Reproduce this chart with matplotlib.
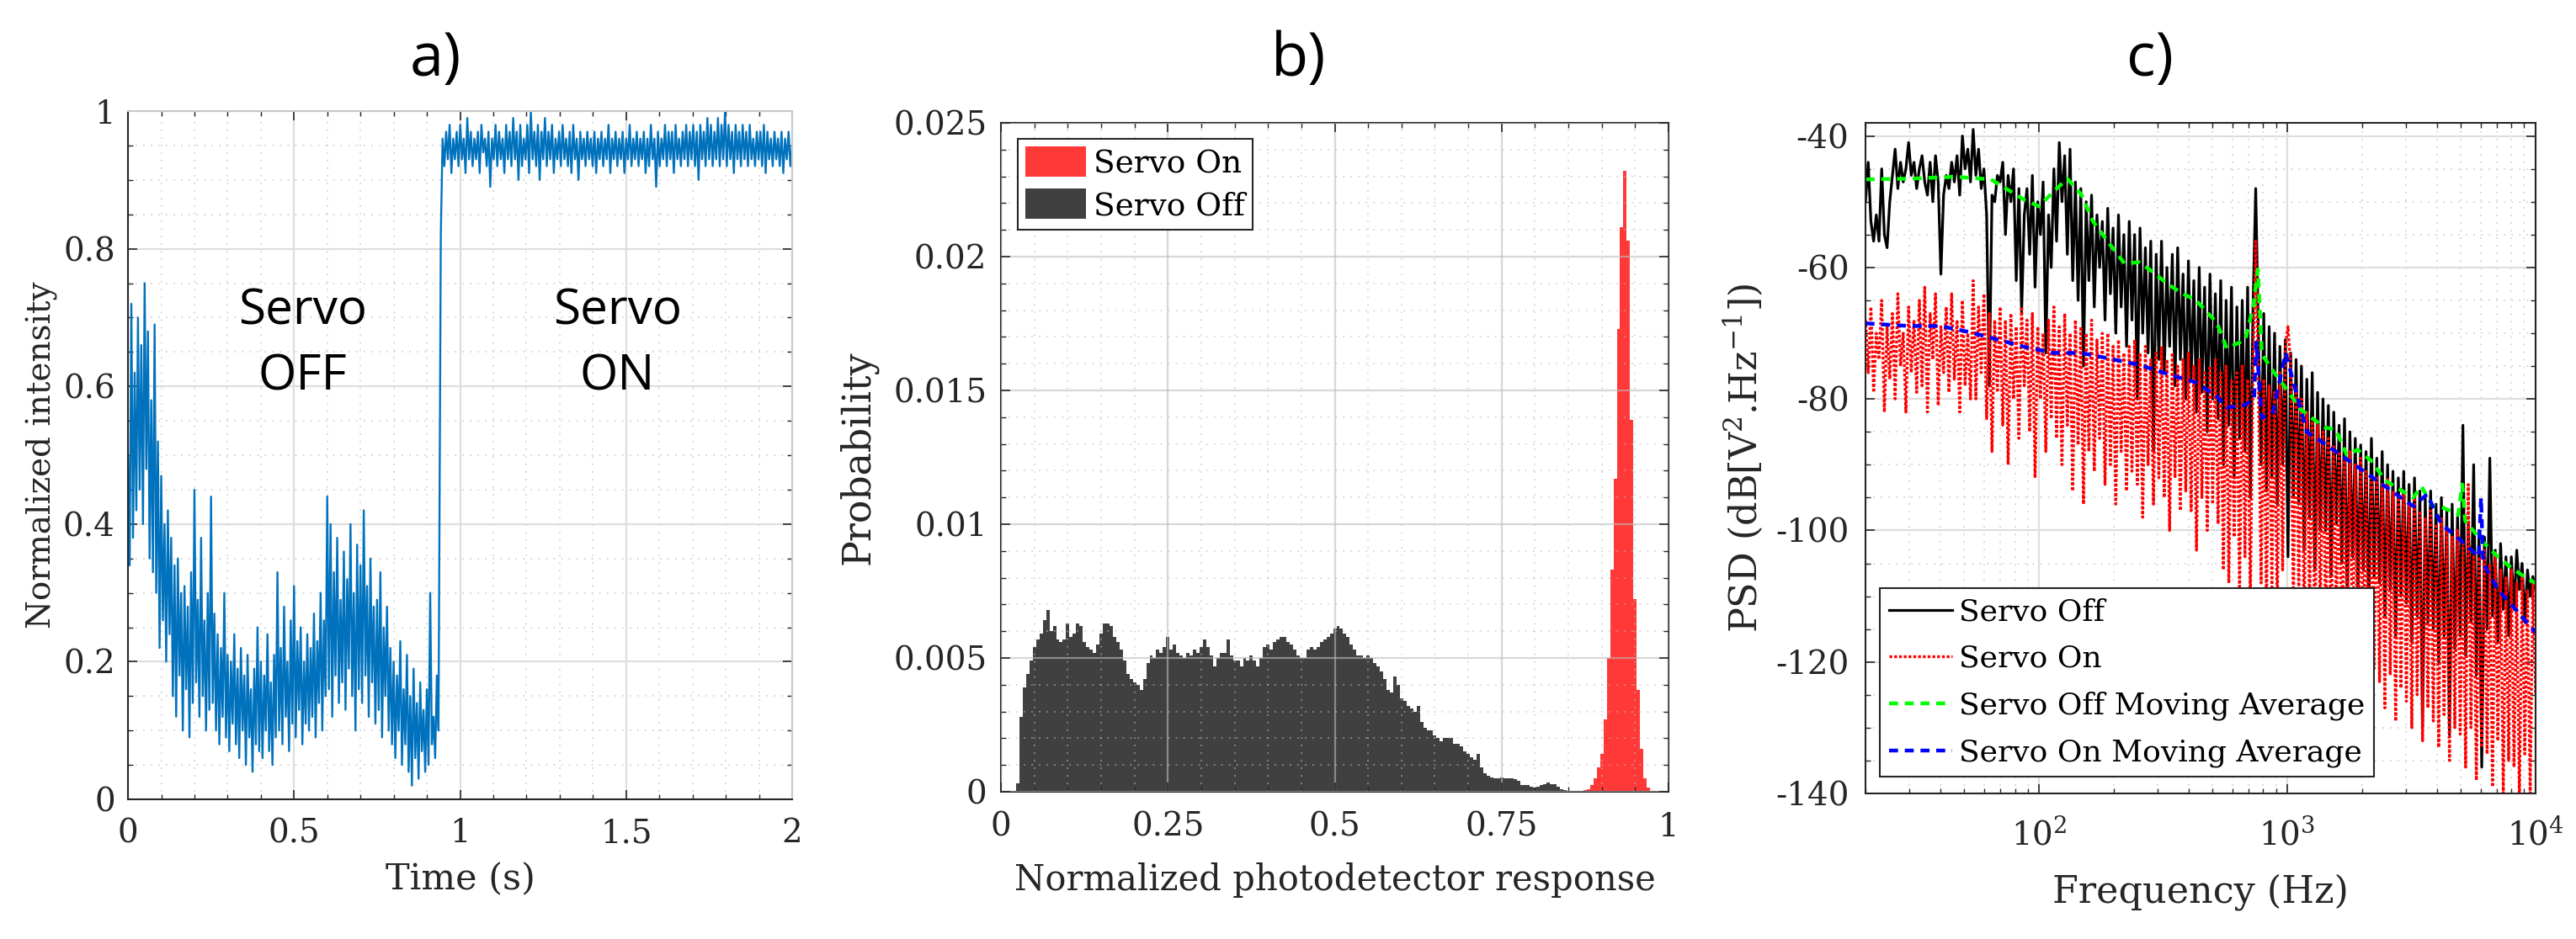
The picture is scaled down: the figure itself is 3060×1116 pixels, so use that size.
import matplotlib
matplotlib.use("Agg")
import matplotlib.pyplot as plt
import numpy as np
from matplotlib.ticker import MultipleLocator

plt.rcParams['font.family'] = ['DejaVu Serif']
plt.rcParams['mathtext.fontset'] = 'dejavuserif'

#%% a) normalized intensity (peaks and troughs)
T_OFF_END = 0.935
T_ON_START = 0.942
T_END = 2.0

OFF_INTENSITY = [
    0.50, 0.34, 0.72, 0.38, 0.62, 0.42, 0.70, 0.45, 0.66, 0.40,
    0.75, 0.48, 0.68, 0.35, 0.58, 0.33, 0.69, 0.30, 0.52, 0.22,
    0.47, 0.26, 0.40, 0.20, 0.42, 0.24, 0.38, 0.15, 0.34, 0.12,
    0.35, 0.18, 0.30, 0.10, 0.31, 0.16, 0.28, 0.09, 0.33, 0.14,
    0.45, 0.17, 0.29, 0.12, 0.38, 0.15, 0.26, 0.10, 0.30, 0.13,
    0.44, 0.14, 0.27, 0.10, 0.24, 0.08, 0.22, 0.12, 0.30, 0.09,
    0.21, 0.07, 0.20, 0.11, 0.24, 0.08, 0.19, 0.06, 0.22, 0.10,
    0.18, 0.05, 0.21, 0.09, 0.16, 0.04, 0.19, 0.08, 0.25, 0.07,
    0.20, 0.06, 0.18, 0.10, 0.24, 0.07, 0.17, 0.05, 0.21, 0.09,
    0.33, 0.10, 0.22, 0.08, 0.28, 0.12, 0.20, 0.07, 0.26, 0.11,
    0.31, 0.09, 0.23, 0.13, 0.25, 0.08, 0.20, 0.11, 0.24, 0.10,
    0.22, 0.12, 0.27, 0.09, 0.23, 0.14, 0.30, 0.10, 0.26, 0.15,
    0.44, 0.16, 0.40, 0.12, 0.33, 0.18, 0.38, 0.14, 0.29, 0.17,
    0.36, 0.13, 0.32, 0.19, 0.40, 0.15, 0.30, 0.10, 0.37, 0.16,
    0.34, 0.14, 0.42, 0.18, 0.31, 0.12, 0.35, 0.17, 0.28, 0.11,
    0.29, 0.13, 0.33, 0.09, 0.25, 0.15, 0.28, 0.10, 0.22, 0.08,
    0.20, 0.06, 0.18, 0.10, 0.23, 0.05, 0.16, 0.08, 0.21, 0.04,
    0.15, 0.02, 0.19, 0.06, 0.14, 0.03, 0.17, 0.07, 0.13, 0.04,
    0.16, 0.05, 0.30, 0.08, 0.12, 0.06, 0.18, 0.10,
]

ON_INTENSITY = [
    0.82, 0.96, 0.92, 0.97, 0.93, 0.98, 0.91, 0.96, 0.93, 0.97,
    0.92, 0.98, 0.93, 0.96, 0.91, 0.99, 0.93, 0.97, 0.92, 0.96,
    0.93, 0.97, 0.91, 0.98, 0.94, 0.96, 0.92, 0.97, 0.89, 0.96,
    0.93, 0.98, 0.92, 0.97, 0.93, 0.96, 0.91, 0.98, 0.93, 0.97,
    0.92, 0.99, 0.93, 0.97, 0.90, 0.98, 0.92, 0.96, 0.93, 0.98,
    0.91, 1.00, 0.93, 0.97, 0.92, 0.98, 0.90, 0.97, 0.93, 0.99,
    0.92, 0.97, 0.93, 0.98, 0.91, 0.96, 0.93, 0.97, 0.92, 0.98,
    0.93, 0.96, 0.92, 0.97, 0.91, 0.98, 0.93, 0.96, 0.90, 0.97,
    0.93, 0.96, 0.92, 0.97, 0.93, 0.96, 0.92, 0.97, 0.91, 0.96,
    0.93, 0.97, 0.92, 0.96, 0.93, 0.98, 0.91, 0.96, 0.93, 0.97,
    0.92, 0.96, 0.93, 0.97, 0.91, 0.96, 0.93, 0.98, 0.92, 0.96,
    0.93, 0.97, 0.92, 0.96, 0.93, 0.97, 0.91, 0.96, 0.92, 0.98,
    0.93, 0.96, 0.89, 0.97, 0.92, 0.96, 0.93, 0.98, 0.92, 0.97,
    0.93, 0.97, 0.91, 0.98, 0.93, 0.96, 0.92, 0.97, 0.93, 0.98,
    0.92, 0.97, 0.93, 0.98, 0.92, 0.97, 0.90, 0.98, 0.93, 0.97,
    0.92, 0.99, 0.93, 0.98, 0.92, 0.97, 0.93, 0.99, 0.92, 0.98,
    0.93, 1.00, 0.92, 0.98, 0.93, 0.97, 0.91, 0.98, 0.93, 0.97,
    0.92, 0.98, 0.93, 0.97, 0.92, 0.98, 0.93, 0.96, 0.92, 0.97,
    0.93, 0.97, 0.92, 0.98, 0.91, 0.97, 0.93, 0.96, 0.92, 0.97,
    0.93, 0.96, 0.92, 0.97, 0.91, 0.96, 0.93, 0.97, 0.92, 0.95,
]

#%% b) histograms, probability in units of 1e-3, bins of 0.005
HIST_BIN = 0.005
OFF_HIST_FIRST = 0.025   # centre of first bin
OFF_HIST = [
    0.3, 2.8, 3.9, 4.4, 4.9, 5.4, 5.7, 5.9, 6.4, 6.8,
    6.0, 6.2, 5.7, 5.6, 5.7, 6.3, 5.8, 5.9, 6.3, 6.2,
    5.6, 5.4, 5.3, 5.2, 5.5, 5.9, 6.3, 6.3, 6.2, 5.8,
    5.6, 5.3, 4.9, 4.4, 4.2, 4.1, 4.0, 3.8, 4.2, 4.8,
    5.1, 5.0, 5.3, 5.2, 5.4, 5.8, 5.3, 5.5, 5.2, 5.1,
    5.0, 5.2, 5.1, 5.3, 5.2, 5.4, 5.7, 5.4, 5.1, 4.7,
    5.0, 5.2, 5.2, 5.7, 5.1, 4.9, 4.9, 4.7, 5.0, 4.9,
    5.1, 4.9, 4.7, 5.0, 5.4, 5.5, 5.3, 5.6, 5.7, 5.8,
    5.8, 5.6, 5.5, 5.3, 5.1, 5.0, 5.0, 5.3, 5.4, 5.3,
    5.4, 5.6, 5.7, 5.8, 5.9, 6.1, 6.2, 6.1, 5.9, 5.8,
    5.5, 5.3, 5.1, 5.1, 5.0, 5.1, 5.0, 4.8, 4.7, 4.5,
    4.2, 3.8, 3.7, 4.3, 4.0, 3.5, 3.4, 3.2, 3.1, 3.0,
    3.2, 2.6, 2.4, 2.3, 2.3, 2.1, 2.0, 1.9, 2.0, 2.0,
    2.0, 1.8, 1.8, 1.7, 1.5, 1.4, 1.3, 1.2, 1.4, 0.9,
    0.7, 0.6, 0.55, 0.5, 0.5, 0.55, 0.5, 0.5, 0.5, 0.48,
    0.4, 0.26, 0.24, 0.24, 0.19, 0.16, 0.19, 0.24, 0.29, 0.35,
    0.29, 0.29, 0.2, 0.1, 0.05, 0.03, 0.02, 0.01,
]
ON_HIST_FIRST = 0.87
ON_HIST = [
    0.03, 0.06, 0.1, 0.25, 0.5, 0.9, 1.4, 2.7, 5.0, 8.3,
    11.7, 17.3, 21.1, 23.2, 20.6, 13.9, 7.2, 3.8, 1.6, 0.5, 0.15,
]

#%% c) PSD in dB, 250 samples log-spaced 20 Hz .. 10 kHz (peaks/troughs)
PSD_F_MIN = 20
PSD_F_MAX = 1e4
PSD_OFF = [
    -50, -44, -53, -56, -52, -56, -45, -55, -57, -50,
    -46, -42, -48, -44, -47, -45, -41, -46, -44, -48,
    -45, -43, -47, -49, -44, -50, -43, -47, -61, -49,
    -46, -48, -44, -47, -43, -49, -40, -45, -42, -47,
    -39, -46, -42, -48, -45, -52, -78, -49, -50, -46,
    -47, -44, -55, -46, -50, -45, -62, -48, -67, -52,
    -48, -58, -46, -63, -50, -55, -47, -73, -52, -60,
    -45, -56, -41, -50, -43, -58, -42, -62, -47, -65,
    -48, -75, -50, -62, -49, -66, -52, -60, -53, -68,
    -51, -64, -54, -70, -52, -66, -55, -72, -53, -68,
    -55, -80, -54, -70, -57, -73, -56, -88, -58, -74,
    -56, -76, -60, -72, -58, -78, -57, -74, -61, -80,
    -59, -77, -62, -82, -60, -79, -63, -85, -61, -80,
    -64, -83, -62, -90, -65, -84, -63, -92, -66, -86,
    -65, -88, -63, -95, -66, -48, -70, -90, -67, -94,
    -69, -92, -70, -96, -72, -90, -71, -104, -73, -95,
    -74, -96, -75, -103, -77, -98, -76, -106, -79, -100,
    -80, -100, -81, -107, -82, -99, -84, -105, -83, -110,
    -85, -104, -86, -109, -87, -106, -88, -112, -86, -107,
    -89, -108, -88, -113, -90, -109, -91, -116, -92, -110,
    -91, -111, -93, -117, -92, -113, -94, -130, -95, -114,
    -94, -115, -96, -120, -95, -116, -97, -131, -96, -118,
    -98, -116, -84, -119, -99, -114, -90, -122, -100, -136,
    -101, -115, -89, -113, -103, -117, -102, -112, -104, -116,
    -104, -112, -103, -109, -105, -114, -106, -110, -107, -109,
]
PSD_ON = [
    -68, -76, -66, -79, -70, -74, -65, -82, -69, -77,
    -67, -80, -64, -75, -70, -82, -66, -76, -68, -79,
    -65, -78, -63, -82, -67, -74, -64, -81, -69, -76,
    -66, -79, -64, -77, -68, -82, -65, -78, -70, -80,
    -62, -80, -66, -76, -64, -83, -67, -88, -68, -79,
    -66, -84, -68, -90, -67, -80, -69, -86, -66, -78,
    -68, -85, -67, -92, -69, -80, -70, -88, -68, -83,
    -66, -86, -69, -90, -67, -84, -70, -94, -68, -87,
    -69, -96, -70, -88, -68, -91, -71, -86, -70, -93,
    -70, -90, -72, -96, -71, -88, -73, -94, -72, -91,
    -71, -93, -73, -98, -72, -90, -74, -96, -73, -92,
    -72, -95, -74, -100, -73, -92, -75, -97, -74, -94,
    -73, -97, -75, -103, -74, -95, -76, -100, -75, -96,
    -74, -99, -76, -106, -75, -108, -77, -101, -76, -110,
    -75, -104, -77, -111, -76, -56, -78, -108, -77, -112,
    -78, -109, -79, -113, -76, -106, -72, -69, -75, -112,
    -78, -110, -80, -115, -82, -112, -83, -118, -84, -113,
    -85, -116, -86, -120, -87, -114, -88, -122, -89, -118,
    -88, -120, -90, -124, -89, -119, -91, -126, -92, -121,
    -92, -123, -93, -127, -92, -122, -94, -129, -95, -124,
    -94, -126, -96, -130, -95, -125, -97, -132, -98, -127,
    -97, -129, -99, -133, -98, -128, -100, -135, -101, -130,
    -100, -131, -102, -136, -93, -130, -103, -138, -104, -133,
    -103, -134, -105, -139, -104, -132, -106, -140, -107, -135,
    -106, -136, -108, -141, -107, -134, -109, -140, -108, -125,
]

MA_OFF_F = [20, 30, 46, 64, 88, 100, 114, 130, 148, 165, 194, 221, 253, 288,
            329, 376, 429, 520, 571, 677, 730, 761, 790, 875, 1000, 1140,
            1410, 1570, 1740, 1914, 2180, 2480, 3213, 3470, 3850, 4170,
            4880, 5070, 5200, 6040, 7050, 7873, 8988, 10000]
MA_OFF_DB = [-46.6, -46.5, -46.2, -46.6, -49.8, -50.7, -48.5, -46.5, -48.9,
             -53.0, -56.6, -59.4, -59.2, -60.7, -62.5, -63.9, -65.0, -68.4,
             -72.3, -71.0, -65.9, -60.3, -73.2, -75.7, -78.7, -81.7, -84.3,
             -84.7, -88.6, -87.7, -89.4, -92.4, -95.0, -93.3, -96.3, -96.4,
             -97.6, -93.0, -98.5, -101.5, -104.0, -105.5, -107.0, -108.0]

MA_ON_F = [20, 30, 40, 52, 64, 88, 114, 148, 194, 253, 329, 429, 520, 571,
           677, 735, 750, 790, 875, 985, 1080, 1200, 1477, 1914, 2480, 3213,
           3657, 4170, 5000, 5900, 6030, 6150, 7050, 7873, 8988, 10000]
MA_ON_DB = [-68.5, -68.9, -68.9, -69.8, -70.7, -72.1, -73.0, -73.0, -73.9,
            -74.8, -76.2, -77.5, -79.6, -81.3, -80.9, -80.0, -71.4, -82.9,
            -82.0, -73.0, -78.7, -85.0, -87.3, -90.3, -93.3, -96.3, -94.5,
            -99.0, -101.5, -104.0, -95.0, -105.0, -109.0, -111.0, -113.5,
            -115.5]

#%%
AX_COLOR = '#262626'
TICK_SIZE = 28


def style_axes(ax, grid_on_top=False):
    ax.tick_params(which='both', direction='in', top=True, right=True,
                   colors=AX_COLOR, labelsize=TICK_SIZE)
    ax.tick_params(which='major', length=8, width=1.2)
    ax.tick_params(which='minor', length=4, width=1.0)
    if grid_on_top:
        ax.grid(True, which='major', color='#bdbdbd', alpha=0.6, lw=1.6)
        ax.grid(True, which='minor', color='#bdbdbd', alpha=0.6, lw=1.3,
                ls=(0, (1, 4)))
        ax.set_axisbelow(False)
    else:
        ax.grid(True, which='major', color='#dedede', lw=1.6)
        ax.grid(True, which='minor', color='#d4d4d4', lw=1.3, ls=(0, (1, 4)))
        ax.set_axisbelow(True)
    for sp in ax.spines.values():
        sp.set_color(AX_COLOR)
        sp.set_linewidth(1.5)


def place_labels(ax, xlabel, xsize, xy, ylabel, ysize, yx):
    ax.set_xlabel(xlabel, fontsize=xsize, color=AX_COLOR)
    ax.set_ylabel(ylabel, fontsize=ysize, color=AX_COLOR)
    ax.xaxis.set_label_coords(0.5, xy)
    ax.yaxis.set_label_coords(yx, 0.5)
    ax.xaxis.label.set_va('center')
    ax.yaxis.label.set_va('center')


fig = plt.figure(figsize=(30.6, 11.16), dpi=100)
ax_a = fig.add_axes([0.0497, 0.1487, 0.2578, 0.7330])
ax_b = fig.add_axes([0.3886, 0.1568, 0.2591, 0.7124])
ax_c = fig.add_axes([0.7242, 0.1550, 0.2601, 0.7142])

#%% a)
t_off = np.linspace(0, T_OFF_END, len(OFF_INTENSITY))
t_on = np.linspace(T_ON_START, T_END, len(ON_INTENSITY))
ax_a.plot(np.concatenate([t_off, t_on]), OFF_INTENSITY + ON_INTENSITY,
          color='#0072BD', lw=1.7)
ax_a.set_xlim(0, 2)
ax_a.set_ylim(0, 1)
ax_a.set_xticks([0, 0.5, 1, 1.5, 2])
ax_a.set_xticklabels(['0', '0.5', '1', '1.5', '2'])
ax_a.set_yticks([0, 0.2, 0.4, 0.6, 0.8, 1])
ax_a.set_yticklabels(['0', '0.2', '0.4', '0.6', '0.8', '1'])
ax_a.xaxis.set_minor_locator(MultipleLocator(0.1))
ax_a.yaxis.set_minor_locator(MultipleLocator(0.05))
style_axes(ax_a)
ax_a.spines['top'].set_color('#c8c8c8')
ax_a.spines['right'].set_color('#c8c8c8')
ax_a.tick_params(axis='x', pad=16)
ax_a.tick_params(axis='y', pad=11)
place_labels(ax_a, 'Time (s)', 31, -0.117, 'Normalized intensity', 28, -0.129)
for x, y, s in [(0.525, 0.709, 'Servo'), (0.525, 0.614, 'OFF'),
                (1.473, 0.709, 'Servo'), (1.473, 0.614, 'ON')]:
    ax_a.text(x, y, s, family='Open Sans', fontsize=42, ha='center',
              va='center', color='black')

#%% b)
off_edges = OFF_HIST_FIRST - HIST_BIN / 2 + HIST_BIN * np.arange(len(OFF_HIST) + 1)
on_edges = ON_HIST_FIRST - HIST_BIN / 2 + HIST_BIN * np.arange(len(ON_HIST) + 1)
h_on = ax_b.stairs(np.array(ON_HIST) * 1e-3, on_edges, fill=True,
                   color='#ff3838', label='Servo On')
h_off = ax_b.stairs(np.array(OFF_HIST) * 1e-3, off_edges, fill=True,
                    color='#404040', label='Servo Off')
ax_b.set_xlim(0, 1)
ax_b.set_ylim(0, 0.025)
ax_b.set_xticks([0, 0.25, 0.5, 0.75, 1])
ax_b.set_xticklabels(['0', '0.25', '0.5', '0.75', '1'])
ax_b.set_yticks([0, 0.005, 0.01, 0.015, 0.02, 0.025])
ax_b.set_yticklabels(['0', '0.005', '0.01', '0.015', '0.02', '0.025'])
ax_b.xaxis.set_minor_locator(MultipleLocator(0.05))
ax_b.yaxis.set_minor_locator(MultipleLocator(0.001))
style_axes(ax_b, grid_on_top=True)
ax_b.tick_params(axis='x', pad=17)
ax_b.tick_params(axis='y', pad=12)
place_labels(ax_b, 'Normalized photodetector response', 30, -0.132,
             'Probability', 33, -0.214)
leg_b = ax_b.legend(handles=[h_on, h_off], loc='upper left',
                    bbox_to_anchor=(0.025, 0.976), borderaxespad=0,
                    fontsize=27, fancybox=False, framealpha=1,
                    edgecolor=AX_COLOR, handlelength=1.9, handleheight=1.1,
                    handletextpad=0.25, labelspacing=0.3, borderpad=0.25)
leg_b.get_frame().set_linewidth(1.5)

#%% c)
f_psd = np.geomspace(PSD_F_MIN, PSD_F_MAX, len(PSD_OFF))
ax_c.plot(f_psd, PSD_OFF, color='black', lw=2.3, label='Servo Off')
ax_c.plot(f_psd, PSD_ON, color='#ff0000', lw=2.4, ls=(0, (1, 0.7)),
          label='Servo On')
ax_c.plot(MA_OFF_F, MA_OFF_DB, color='#00ff00', lw=3.2, dashes=(2.4, 1.8),
          label='Servo Off Moving Average')
ax_c.plot(MA_ON_F, MA_ON_DB, color='#0000ff', lw=3.2, dashes=(2.4, 1.8),
          label='Servo On Moving Average')
ax_c.set_xscale('log')
ax_c.set_xlim(PSD_F_MIN, PSD_F_MAX)
ax_c.set_ylim(-140, -38)
ax_c.set_xticks([1e2, 1e3, 1e4])
ax_c.set_yticks([-140, -120, -100, -80, -60, -40])
ax_c.set_yticklabels(['-140', '-120', '-100', '-80', '-60', '-40'])
ax_c.yaxis.set_minor_locator(MultipleLocator(5))
style_axes(ax_c)
ax_c.tick_params(axis='x', pad=21)
ax_c.tick_params(axis='y', pad=14)
place_labels(ax_c, 'Frequency (Hz)', 32, -0.147,
             'PSD (dB[V$^2$.Hz$^{-1}$])', 32, -0.182)
leg_c = ax_c.legend(loc='lower left', bbox_to_anchor=(0.021, 0.025),
                    borderaxespad=0, fontsize=26, fancybox=False,
                    framealpha=1, edgecolor=AX_COLOR, handlelength=2.1,
                    handletextpad=0.2, labelspacing=0.6, borderpad=0.3)
leg_c.get_frame().set_linewidth(1.5)

#%% panel letters
for x, s in [(0.169, 'a)'), (0.504, 'b)'), (0.8346, 'c)')]:
    fig.text(x, 0.936, s, family='Open Sans', fontsize=52, ha='center',
             va='center', color='black')

fig.savefig('out.png', dpi=100, facecolor='white')
